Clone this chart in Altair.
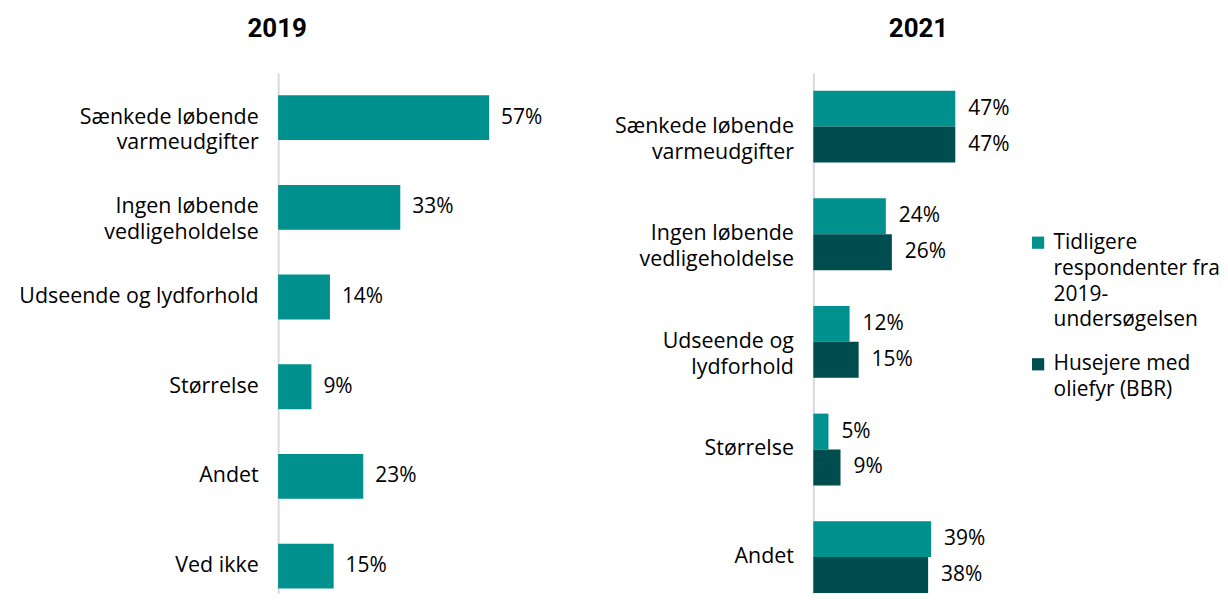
import altair as alt
import pandas as pd

# ---- data ----
cats_2019 = ["Sænkede løbende|varmeudgifter", "Ingen løbende|vedligeholdelse",
             "Udseende og lydforhold", "Størrelse", "Andet", "Ved ikke"]
vals_2019 = [57, 33, 14, 9, 23, 15]

cats_2021 = ["Sænkede løbende|varmeudgifter", "Ingen løbende|vedligeholdelse",
             "Udseende og|lydforhold", "Størrelse", "Andet"]
prev_2021 = [47, 24, 12, 5, 39]
bbr_2021 = [47, 26, 15, 9, 38]

series = ["Tidligere|respondenter fra|2019-|undersøgelsen", "Husejere med|oliefyr (BBR)"]
colors = ["#00918E", "#004D4F"]

FONT = "Open Sans"
TFONT = "Roboto"

df1 = pd.DataFrame({"cat": cats_2019, "v": vals_2019,
                    "lbl": [f"{v}%" for v in vals_2019]})

rows = []
for c, a, b in zip(cats_2021, prev_2021, bbr_2021):
    rows.append({"cat": c, "s": series[0], "v": a, "lbl": f"{a}%"})
    rows.append({"cat": c, "s": series[1], "v": b, "lbl": f"{b}%"})
df2 = pd.DataFrame(rows)

yaxis_common = dict(title=None, labelExpr="split(datum.label, '|')", ticks=False,
                    domainColor="#d9d9d9", domainWidth=2, labelFontSize=21.5,
                    labelFont=FONT, labelColor="#000000", labelPadding=20,
                    labelLimit=400, labelLineHeight=26, grid=False)

base1 = alt.Chart(df1).encode(
    y=alt.Y("cat:N", sort=cats_2019,
            scale=alt.Scale(paddingInner=0.5, paddingOuter=0.25),
            axis=alt.Axis(minExtent=271, **yaxis_common)),
    x=alt.X("v:Q", scale=alt.Scale(domain=[0, 70]), axis=None),
)
left = (base1.mark_bar(color=colors[0]) +
        base1.mark_text(align="left", dx=12, fontSize=21, font=FONT, color="#000000")
        .encode(text="lbl:N")).properties(
    width=260, height=540,
    title=alt.TitleParams("2019", fontSize=26, font=TFONT, fontWeight="bold",
                          anchor="middle", frame="bounds", offset=33, dx=2, dy=2))

base2 = alt.Chart(df2).encode(
    y=alt.Y("cat:N", sort=cats_2021,
            scale=alt.Scale(paddingInner=0.333, paddingOuter=0.167),
            axis=alt.Axis(minExtent=209, **yaxis_common)),
    yOffset=alt.YOffset("s:N", sort=series,
                        scale=alt.Scale(paddingInner=0, paddingOuter=0)),
    x=alt.X("v:Q", scale=alt.Scale(domain=[0, 66]), axis=None),
)
right = (base2.mark_bar().encode(
    color=alt.Color("s:N", sort=series,
                    scale=alt.Scale(domain=series, range=colors),
                    legend=alt.Legend(title=None, labelExpr="split(datum.label, '|')",
                                      labelFontSize=21, labelFont=FONT,
                                      labelColor="#000000", symbolType="square",
                                      symbolSize=150, symbolStrokeWidth=0,
                                      labelLimit=175, rowPadding=22, labelOffset=5,
                                      orient="none", legendX=752, legendY=160))) +
    base2.mark_text(align="left", dx=13, fontSize=21, font=FONT, color="#000000")
    .encode(text="lbl:N")).properties(
    width=200, height=540,
    title=alt.TitleParams("2021", fontSize=26, font=TFONT, fontWeight="bold",
                          anchor="middle", frame="bounds", offset=33, dx=110, dy=2))

chart = (alt.hconcat(left, right, spacing=62,
                     padding={"left": 0, "top": 7, "right": 0, "bottom": -18})
         .configure(style={"guide-label": {"lineHeight": 26}})
         .configure_view(strokeWidth=0))

chart.save("out.html", embed_options={"renderer": "svg", "actions": False})
